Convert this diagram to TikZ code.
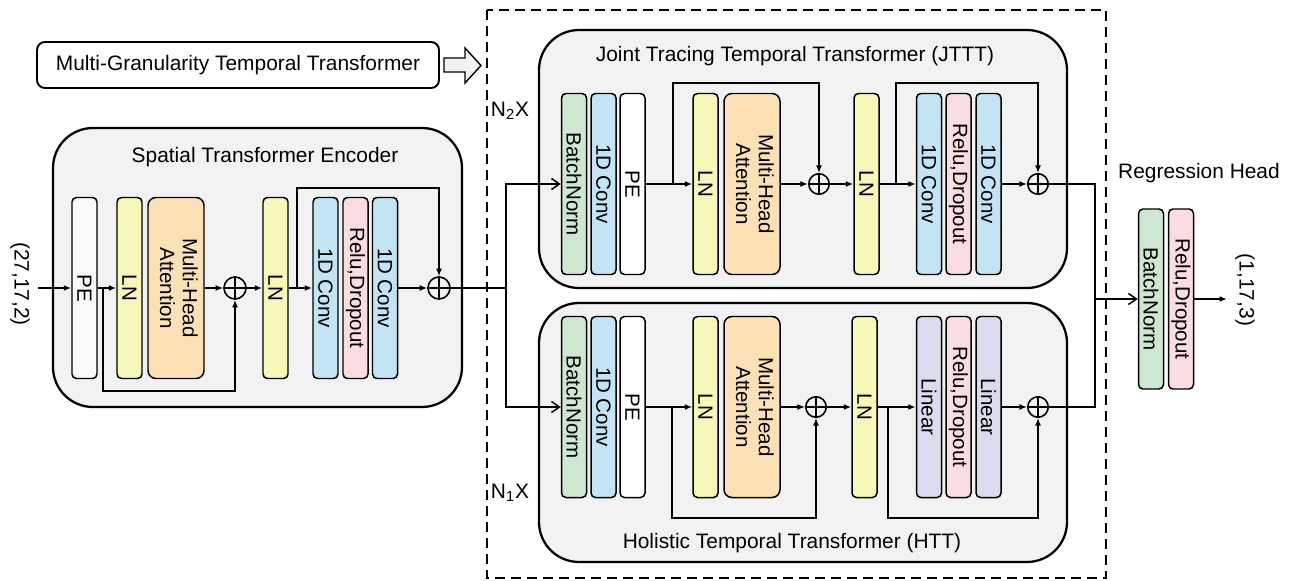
\documentclass[tikz,border=0pt]{standalone}
\usepackage{fontspec}
\setmainfont{Liberation Sans}
\usetikzlibrary{arrows.meta}
\definecolor{cGray}{HTML}{F2F2F2}
\definecolor{cBN}{HTML}{CDE7D1}
\definecolor{cConv}{HTML}{C3E4F5}
\definecolor{cPE}{HTML}{F9F9F9}
\definecolor{cLN}{HTML}{F7F7BA}
\definecolor{cMHA}{HTML}{FCE1B6}
\definecolor{cRD}{HTML}{F9DDE1}
\definecolor{cLin}{HTML}{DADCEE}
\begin{document}
\begin{tikzpicture}[x=0.2mm,y=-0.2mm,
  blk/.style={draw, line width=0.85pt, rounded corners=0.9mm, minimum width=5mm, minimum height=36.2mm, inner sep=0pt, font=\fontsize{11.7}{13}\selectfont},
  wblk/.style={blk, minimum width=11.2mm, rounded corners=1.6mm},
  outer/.style={draw, line width=1.3pt, rounded corners=8mm, fill=cGray, inner sep=0pt},
  addn/.style={draw, circle, line width=0.9pt, minimum size=4.4mm, inner sep=0pt},
  conn/.style={line width=0.85pt},
  arr/.style={conn, -{Latex[length=1.5mm,width=1.2mm]}},
  oarr/.style={conn, -{Straight Barb[length=1.6mm,width=2.2mm]}},
  ttl/.style={font=\fontsize{11.9}{14}\selectfont, inner sep=0pt}
]
\useasboundingbox (0,0) rectangle (1290,581);

% dashed frame
\draw[line width=1.2pt, dash pattern=on 2mm off 1.2mm] (487,10) rectangle (1106,578);

% Multi-granularity label box and hollow arrow
\node[draw, line width=1.1pt, rounded corners=1.6mm, minimum width=80.4mm, minimum height=9.2mm, inner sep=0pt, ttl] (mgtt) at (238,65) {Multi-Granularity Temporal Transformer};
\draw[line width=0.8pt, fill=cGray] (444,58) -- (465,58) -- (465,48) -- (481,65.5) -- (465,83) -- (465,72) -- (444,72) -- cycle;

% outer boxes
\node[outer, minimum width=81.8mm, minimum height=55.8mm] (spte) at (257.5,267.5) {};
\node[outer, minimum width=105.6mm, minimum height=51.6mm] (jttt) at (803,159) {};
\node[outer, minimum width=105.6mm, minimum height=51.8mm] (htt) at (803,432.5) {};

\node[ttl] (spttl) at (265,157) {Spatial Transformer Encoder};
\node[ttl] (jttl) at (795,56) {Joint Tracing Temporal Transformer (JTTT)};
\node[ttl] (httl) at (792,543) {Holistic Temporal Transformer (HTT)};
\node[ttl] (rhttl) at (1199,173) {Regression Head};

\node[ttl] (n2) at (510,111) {N\textsubscript{2}X};
\node[ttl] (n1) at (510,493) {N\textsubscript{1}X};

% Spatial encoder blocks
\node[blk, fill=cPE] (s_pe) at (84.5,288) {\rotatebox{-90}{PE}};
\node[blk, fill=cLN] (s_ln1) at (129.5,288) {\rotatebox{-90}{LN}};
\node[wblk, fill=cMHA] (s_mha) at (176,288) {\rotatebox{-90}{\begin{tabular}{@{}c@{}}Multi-Head\\Attention\end{tabular}}};
\node[addn] (s_add1) at (235,288) {};
\node[blk, fill=cLN] (s_ln2) at (275.5,288) {\rotatebox{-90}{LN}};
\node[blk, fill=cConv] (s_c1) at (325.5,288) {\rotatebox{-90}{1D Conv}};
\node[blk, fill=cRD] (s_rd) at (355.5,288) {\rotatebox{-90}{Relu,Dropout}};
\node[blk, fill=cConv] (s_c2) at (385,288) {\rotatebox{-90}{1D Conv}};
\node[addn] (s_add2) at (439,288) {};

% JTTT blocks
\node[blk, fill=cBN] (j_bn) at (574,184) {\rotatebox{-90}{BatchNorm}};
\node[blk, fill=cConv] (j_c) at (603.5,184) {\rotatebox{-90}{1D Conv}};
\node[blk, fill=white] (j_pe) at (632.5,184) {\rotatebox{-90}{PE}};
\node[blk, fill=cLN] (j_ln1) at (705.5,184) {\rotatebox{-90}{LN}};
\node[wblk, fill=cMHA] (j_mha) at (752,184) {\rotatebox{-90}{\begin{tabular}{@{}c@{}}Multi-Head\\Attention\end{tabular}}};
\node[addn, minimum size=4.1mm] (j_add1) at (819,184) {};
\node[blk, fill=cLN] (j_ln2) at (866.5,184) {\rotatebox{-90}{LN}};
\node[blk, fill=cConv] (j_c1) at (929,184) {\rotatebox{-90}{1D Conv}};
\node[blk, fill=cRD] (j_rd) at (958.5,184) {\rotatebox{-90}{Relu,Dropout}};
\node[blk, fill=cConv] (j_c2) at (988.5,184) {\rotatebox{-90}{1D Conv}};
\node[addn, minimum size=4.1mm] (j_add2) at (1038,184) {};

% HTT blocks
\node[blk, fill=cBN] (h_bn) at (574,407) {\rotatebox{-90}{BatchNorm}};
\node[blk, fill=cConv] (h_c) at (603.5,407) {\rotatebox{-90}{1D Conv}};
\node[blk, fill=white] (h_pe) at (632.5,407) {\rotatebox{-90}{PE}};
\node[blk, fill=cLN] (h_ln1) at (705.5,407) {\rotatebox{-90}{LN}};
\node[wblk, fill=cMHA] (h_mha) at (752,407) {\rotatebox{-90}{\begin{tabular}{@{}c@{}}Multi-Head\\Attention\end{tabular}}};
\node[addn, minimum size=4.1mm] (h_add1) at (816,407) {};
\node[blk, fill=cLN] (h_ln2) at (864.5,407) {\rotatebox{-90}{LN}};
\node[blk, fill=cLin] (h_l1) at (929,407) {\rotatebox{-90}{Linear}};
\node[blk, fill=cRD] (h_rd) at (958.5,407) {\rotatebox{-90}{Relu,Dropout}};
\node[blk, fill=cLin] (h_l2) at (988.5,407) {\rotatebox{-90}{Linear}};
\node[addn, minimum size=4.1mm] (h_add2) at (1038,407) {};

% Regression head
\node[blk, fill=cBN, minimum height=36mm] (r_bn) at (1151,299) {\rotatebox{-90}{BatchNorm}};
\node[blk, fill=cRD, minimum height=36mm] (r_rd) at (1181,299) {\rotatebox{-90}{Relu,Dropout}};

% io labels
\node[ttl, rotate=-90] (inlbl) at (20,284) {(27,17,2)};
\node[ttl, rotate=-90] (outlbl) at (1245,290) {(1,17,3)};

% plus signs
\foreach \a in {s_add1,s_add2,j_add1,j_add2,h_add1,h_add2}
  \draw[conn] (\a.north) -- (\a.south) (\a.west) -- (\a.east);

% spatial connectors
\coordinate (in) at (38,288);
\draw[arr] (in) -- (s_pe.west);
\draw[arr] (s_pe.east) -- (s_ln1.west);
\coordinate (sk1) at (103,288);
\draw[arr] (sk1) -- ++(0,103) -| (s_add1.south);
\draw[arr] (s_mha.east) -- (s_add1.west);
\draw[arr] (s_add1.east) -- (s_ln2.west);
\draw[arr] (s_ln2.east) -- (s_c1.west);
\coordinate (sk2) at (297,288);
\draw[arr] (sk2) -- ++(0,-100) -| (s_add2.north);
\draw[arr] (s_c2.east) -- (s_add2.west);
\coordinate (split) at (506,288);
\draw[conn] (s_add2.east) -- (split);
\draw[oarr] (split) |- (j_bn.west);
\draw[oarr] (split) |- (h_bn.west);

% JTTT connectors
\draw[arr] (j_pe.east) -- (j_ln1.west);
\coordinate (jk1) at (673,184);
\draw[arr] (jk1) -- ++(0,-101) -| (j_add1.north);
\draw[arr] (j_mha.east) -- (j_add1.west);
\draw[arr] (j_add1.east) -- (j_ln2.west);
\draw[arr] (j_ln2.east) -- (j_c1.west);
\coordinate (jk2) at (896,184);
\draw[arr] (jk2) -- ++(0,-101) -| (j_add2.north);
\draw[arr] (j_c2.east) -- (j_add2.west);

% HTT connectors
\draw[arr] (h_pe.east) -- (h_ln1.west);
\coordinate (hk1) at (672,407);
\draw[arr] (hk1) -- ++(0,111) -| (h_add1.south);
\draw[arr] (h_mha.east) -- (h_add1.west);
\draw[arr] (h_add1.east) -- (h_ln2.west);
\draw[arr] (h_ln2.east) -- (h_l1.west);
\coordinate (hk2) at (888,407);
\draw[arr] (hk2) -- ++(0,111) -| (h_add2.south);
\draw[arr] (h_l2.east) -- (h_add2.west);

% merge and head
\coordinate (merge) at (1095,299);
\draw[conn] (j_add2.east) -| (merge);
\draw[conn] (h_add2.east) -| (merge);
\draw[oarr] (merge) -- (r_bn.west);
\coordinate (out) at (1227,299);
\draw[arr] (r_rd.east) -- (out);
\end{tikzpicture}
\end{document}
